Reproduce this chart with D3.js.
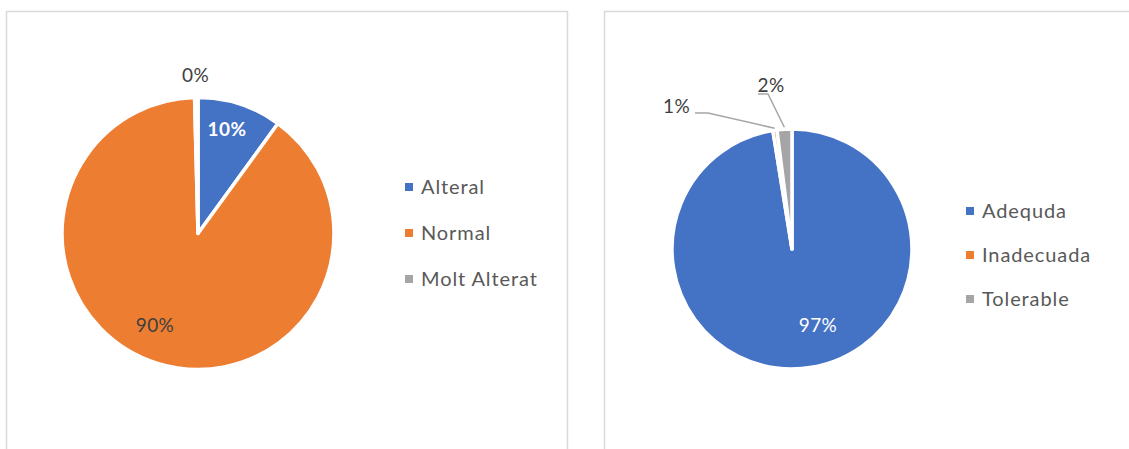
<!DOCTYPE html>
<html>
<head>
<meta charset="utf-8">
<script src="https://cdn.jsdelivr.net/npm/d3@7"></script>
<style>
    body { margin: 0; background: #fff; }
    svg { display: block; font-family: Lato, 'Open Sans', sans-serif; }
</style>
</head>
<body>
<svg id="chart" width="1129" height="449"></svg>
<script>
'use strict';

// left chart
var leftCategories = ['Alteral', 'Normal', 'Molt Alterat'];
var leftValues = [10, 89.6, 0.4];

// right chart
var rightCategories = ['Adequda', 'Inadecuada', 'Tolerable'];
var rightValues = [97.45, 0.55, 2.0];

var colors = ['#4472c4', '#ed7d31', '#a5a5a5'];

var svg = d3.select('#chart'),
    pct = d3.format('.0%');

//Panel frames
svg.append('rect')
    .attr('x', 6.5).attr('y', 11.5)
    .attr('width', 561).attr('height', 460)
    .attr('fill', 'none').attr('stroke', '#d9d9d9').attr('stroke-width', 1.5);
svg.append('rect')
    .attr('x', 604.5).attr('y', 11.5)
    .attr('width', 560).attr('height', 460)
    .attr('fill', 'none').attr('stroke', '#d9d9d9').attr('stroke-width', 1.5);

function drawPie(opts) {
    var total = d3.sum(opts.values),
        data = opts.values.map(function (v, i) {
            return { name: opts.categories[i], value: v, color: colors[i] };
        }),
        pie = d3.pie().sort(null).value(d => d.value),
        arc = d3.arc().innerRadius(0).outerRadius(opts.r),
        arcs = pie(data),
        g = svg.append('g').attr('transform', 'translate(' + opts.cx + ',' + opts.cy + ')');

    g.selectAll('path.slice')
        .data(arcs)
        .enter().append('path')
        .attr('class', 'slice')
        .attr('d', arc)
        .attr('fill', d => d.data.color)
        .attr('stroke', '#fff')
        .attr('stroke-width', 3.5)
        .attr('stroke-linejoin', 'round');

    //Data labels, placed relative to the pie centre
    arcs.forEach(function (d, i) {
        var lab = opts.labels[i],
            txt = pct(d.data.value / total);
        if (lab.leader) {
            var mid = (d.startAngle + d.endAngle) / 2,
                rr = opts.r + 2,
                end = [Math.sin(mid) * rr, -Math.cos(mid) * rr],
                pts = [[lab.dx + lab.leader[0], lab.dy + lab.leader[1]],
                       [lab.dx + lab.leader[0] + lab.leader[2], lab.dy + lab.leader[1]],
                       end];
            g.append('path')
                .attr('d', d3.line()(pts))
                .attr('fill', 'none')
                .attr('stroke', '#a6a6a6')
                .attr('stroke-width', 1.5);
        }
        g.append('text')
            .attr('x', lab.dx)
            .attr('y', lab.dy)
            .attr('dy', '0.35em')
            .attr('text-anchor', 'middle')
            .attr('font-size', 19)
            .attr('letter-spacing', 0.4)
            .attr('font-weight', lab.bold ? 700 : 400)
            .attr('fill', lab.color || '#404040')
            .text(txt);
    });

    //Legend
    var leg = svg.append('g').attr('transform', 'translate(' + opts.legendX + ',' + opts.legendY + ')');
    data.forEach(function (d, i) {
        var row = leg.append('g').attr('transform', 'translate(0,' + (i * opts.legendGap) + ')');
        row.append('rect')
            .attr('x', 0).attr('y', -4)
            .attr('width', 8).attr('height', 8)
            .attr('fill', d.color);
        row.append('text')
            .attr('x', 16)
            .attr('dy', '0.35em')
            .attr('font-size', 20)
            .attr('letter-spacing', 0.9)
            .attr('fill', '#595959')
            .text(d.name);
    });
}

drawPie({
    categories: leftCategories,
    values: leftValues,
    cx: 198, cy: 233.5, r: 136,
    labels: [
        { dx: 29, dy: -104, bold: true, color: '#fff' },
        { dx: -43, dy: 91.5 },
        { dx: -2.5, dy: -158.5 }
    ],
    legendX: 405, legendY: 187, legendGap: 46
});

drawPie({
    categories: rightCategories,
    values: rightValues,
    cx: 792, cy: 249, r: 120,
    labels: [
        { dx: 26, dy: 76, color: '#fff' },
        { dx: -115.5, dy: -143, leader: [18.5, 7, 13] },
        { dx: -21, dy: -164, leader: [-13, 9, 10] }
    ],
    legendX: 966, legendY: 211, legendGap: 44
});
</script>
</body>
</html>
